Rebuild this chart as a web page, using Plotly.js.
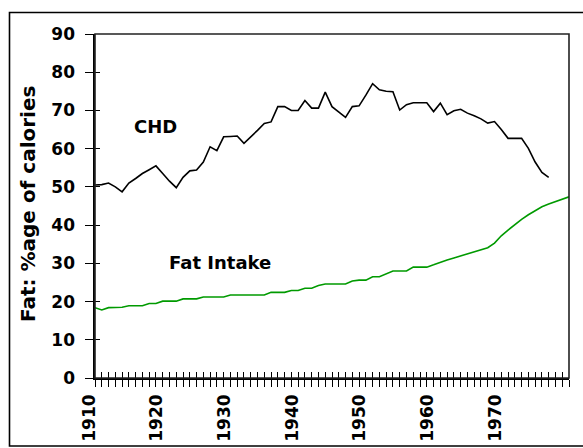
<!DOCTYPE html>
<html>
<head>
<meta charset="utf-8">
<script src="https://cdn.plot.ly/plotly-3.0.1.min.js"></script>
<style>html,body{margin:0;padding:0;background:#fff;}#chart{width:583px;height:448px;}</style>
</head>
<body>
<div id="chart"></div>
<script>
// Data
const chdYears = [1910,1911,1912,1913,1914,1915,1916,1917,1918,1919,1920,1921,1922,1923,1924,1925,1926,1927,1928,1929,1930,1931,1932,1933,1934,1935,1936,1937,1938,1939,1940,1941,1942,1943,1944,1945,1946,1947,1948,1949,1950,1951,1952,1953,1954,1955,1956,1957,1958,1959,1960,1961,1962,1963,1964,1965,1966,1967,1968,1969,1970,1971,1972,1973,1974,1975,1976,1977];
const chdValues = [50.5,50.6,51.0,50.0,48.7,51.0,52.2,53.5,54.5,55.5,53.5,51.5,49.8,52.5,54.2,54.4,56.5,60.5,59.5,63.1,63.2,63.3,61.4,63.0,64.8,66.6,67.0,71.0,71.0,70.0,70.0,72.6,70.6,70.6,74.8,71.0,69.7,68.2,71.0,71.2,74.0,77.0,75.4,75.0,74.9,70.1,71.5,72.0,72.0,72.0,69.7,71.9,68.9,69.9,70.3,69.3,68.6,67.8,66.7,67.1,65.0,62.7,62.7,62.7,60.1,56.5,53.8,52.5];
const fatYears = [1910,1911,1912,1913,1914,1915,1916,1917,1918,1919,1920,1921,1922,1923,1924,1925,1926,1927,1928,1929,1930,1931,1932,1933,1934,1935,1936,1937,1938,1939,1940,1941,1942,1943,1944,1945,1946,1947,1948,1949,1950,1951,1952,1953,1954,1955,1956,1957,1958,1959,1960,1961,1962,1963,1964,1965,1966,1967,1968,1969,1970,1971,1972,1973,1974,1975,1976,1977,1978,1979,1980];
const fatValues = [18.4,17.8,18.4,18.5,18.5,18.9,18.9,18.9,19.5,19.5,20.1,20.1,20.1,20.7,20.7,20.7,21.2,21.2,21.2,21.2,21.7,21.7,21.7,21.7,21.7,21.7,22.4,22.4,22.4,22.9,22.9,23.5,23.5,24.2,24.6,24.6,24.6,24.6,25.4,25.6,25.6,26.5,26.5,27.2,28.0,28.0,28.0,29.0,29.0,29.0,29.6,30.3,30.9,31.4,31.9,32.4,33.0,33.5,34.1,35.3,37.2,38.7,40.2,41.5,42.7,43.7,44.8,45.5,46.2,46.8,47.4];
const yTicks = [0,10,20,30,40,50,60,70,80,90];
const xLabelYears = [1910,1920,1930,1940,1950,1960,1970];
const xTickYears = [];
for (let y = 1910; y <= 1980; y++) xTickYears.push(y);
const seriesLabels = {chd: 'CHD', fat: 'Fat Intake'};
const yTitle = 'Fat: %age of calories';

const W = 583, H = 448;
const SHIFT = 6;               // rotated year labels sit a few px left of their ticks
const L = 95 - SHIFT, R = 14, T = 34, B = 70;
const pw = W - L - R, ph = H - T - B;
const px = v => (v - L) / pw;
const py = v => (H - B - v) / ph;
const plotDomain = [SHIFT / pw, 1];
const labelDomain = [0, 1 - SHIFT / pw];

const fontFam = 'DejaVu Sans, Verdana, sans-serif';
const tickFont = {family: fontFam, size: 17, color: '#000', weight: 'bold'};

const traces = [
  {x: chdYears, y: chdValues, type: 'scatter', mode: 'lines', line: {color: '#000', width: 1.6}, hoverinfo: 'skip'},
  {x: fatYears, y: fatValues, type: 'scatter', mode: 'lines', line: {color: '#009a00', width: 1.6}, hoverinfo: 'skip'}
];

const layout = {
  width: W, height: H,
  margin: {l: L, r: R, t: T, b: B, pad: 0},
  paper_bgcolor: '#fff', plot_bgcolor: 'rgba(0,0,0,0)',
  showlegend: false,
  xaxis: {
    domain: plotDomain,
    range: [1910, 1980], tickmode: 'array', tickvals: xTickYears, showticklabels: false,
    ticks: 'outside', ticklen: 7, tickwidth: 1, tickcolor: '#000',
    showline: true, linecolor: '#000', linewidth: 1.6,
    showgrid: false, zeroline: false, fixedrange: true
  },
  xaxis2: {
    domain: plotDomain, overlaying: 'x', anchor: 'y', side: 'bottom',
    range: [1910, 1980], tickmode: 'array', tickvals: xTickYears, showticklabels: false,
    ticks: 'inside', ticklen: 6, tickwidth: 1, tickcolor: '#000',
    showline: false, showgrid: false, zeroline: false, fixedrange: true
  },
  xaxis3: {
    domain: labelDomain, anchor: 'y', side: 'bottom',
    range: [1910, 1980], tickmode: 'array', tickvals: xLabelYears, ticktext: xLabelYears.map(String),
    ticks: '', tickangle: -90, tickfont: tickFont, ticklabelstandoff: 12,
    showline: false, showgrid: false, zeroline: false, fixedrange: true
  },
  yaxis: {
    anchor: 'x',
    range: [0, 90], tickmode: 'array', tickvals: yTicks,
    ticks: 'outside', ticklen: 8, tickwidth: 1, tickcolor: '#000',
    tickfont: tickFont, ticklabelstandoff: 7,
    showline: true, linecolor: '#000', linewidth: 1.6,
    showgrid: false, zeroline: false, fixedrange: true
  },
  yaxis2: {
    overlaying: 'y', anchor: 'x', side: 'left',
    range: [0, 90], tickmode: 'array', tickvals: yTicks, showticklabels: false,
    ticks: 'inside', ticklen: 5, tickwidth: 1, tickcolor: '#000',
    showline: false, showgrid: false, zeroline: false, fixedrange: true
  },
  shapes: [
    {type: 'rect', xref: 'paper', yref: 'paper', x0: px(95), x1: 1, y0: 0, y1: 1, line: {color: '#222', width: 1.6}, layer: 'above'},
    {type: 'rect', xref: 'paper', yref: 'paper', x0: px(9.5), x1: px(590), y0: py(446), y1: py(12.5), line: {color: '#000', width: 1.6}}
  ],
  annotations: [
    {text: seriesLabels.chd, xref: 'x', yref: 'y', x: 1918.9, y: 65.7, showarrow: false, xanchor: 'center', yanchor: 'middle', font: {family: fontFam, size: 18, color: '#000', weight: 'bold'}},
    {text: seriesLabels.fat, xref: 'x', yref: 'y', x: 1928.5, y: 30.3, showarrow: false, xanchor: 'center', yanchor: 'middle', font: {family: fontFam, size: 18, color: '#000', weight: 'bold'}},
    {text: yTitle, xref: 'paper', yref: 'paper', x: px(28), y: py(204), textangle: -90, showarrow: false, xanchor: 'center', yanchor: 'middle', font: {family: fontFam, size: 20, color: '#000', weight: 'bold'}}
  ]
};

const data = [
  {x: [1910], y: [0], xaxis: 'x3', yaxis: 'y', mode: 'markers', marker: {opacity: 0}, hoverinfo: 'skip', type: 'scatter'},
  {x: [1910], y: [0], xaxis: 'x2', yaxis: 'y2', mode: 'markers', marker: {opacity: 0}, hoverinfo: 'skip', type: 'scatter'}
].concat(traces);
Plotly.newPlot('chart', data, layout, {staticPlot: true, displayModeBar: false});
</script>
</body>
</html>
